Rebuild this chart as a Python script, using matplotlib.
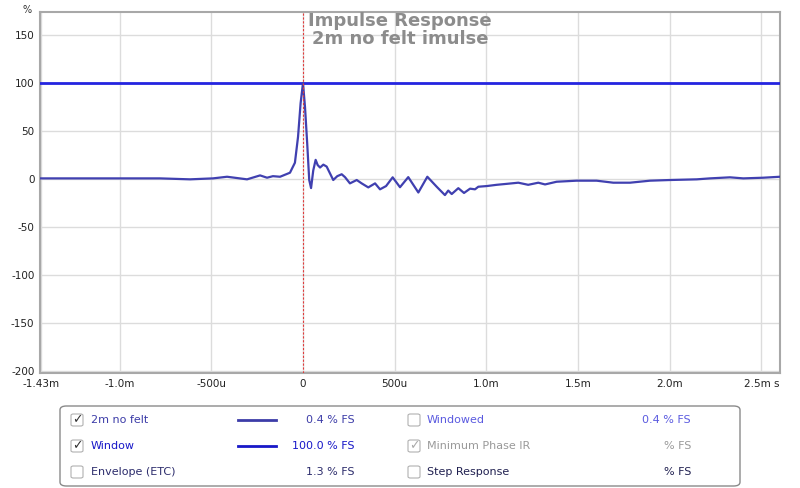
import numpy as np
import matplotlib
matplotlib.use("Agg")
import matplotlib.pyplot as plt
from matplotlib.patches import FancyBboxPatch
from matplotlib.lines import Line2D

# impulse response, time in ms, level in % FS
t_ir = [-1.434, -1.216, -0.998, -0.780, -0.616, -0.491, -0.414, -0.305, -0.234,
        -0.196, -0.164, -0.125, -0.071, -0.044, -0.027, -0.013, 0.0, 0.011, 0.023,
        0.034, 0.044, 0.056, 0.069, 0.080, 0.093, 0.111, 0.129, 0.147, 0.165,
        0.187, 0.211, 0.229, 0.256, 0.293, 0.320, 0.356, 0.393, 0.420, 0.453,
        0.489, 0.529, 0.574, 0.629, 0.678, 0.729, 0.747, 0.774, 0.792, 0.811,
        0.847, 0.878, 0.911, 0.938, 0.956, 1.002, 1.056, 1.111, 1.174, 1.228,
        1.283, 1.320, 1.383, 1.492, 1.601, 1.692, 1.783, 1.892, 2.001, 2.147,
        2.219, 2.328, 2.401, 2.510, 2.601]
v_ir = [0.7, 0.7, 0.7, 0.7, -0.3, 0.7, 2.4, -0.3, 3.8,
        1.4, 3.0, 2.4, 6.6, 17, 44, 79, 100, 75, 37,
        -1, -9.4, 9, 20, 14.6, 12, 15, 13, 6, -1,
        3, 5, 2, -4.5, -1, -4.5, -8.7, -4.5, -10.7, -7.3,
        1.8, -8.5, 2, -14, 2.4, -8, -11.5, -16.7, -12, -15.6,
        -9.5, -14.5, -10, -10.7, -8, -7.3, -6, -5, -3.8, -6,
        -3.8, -5.6, -2.8, -1.7, -1.7, -3.8, -3.8, -1.7, -1, -0.3,
        0.7, 1.8, 0.7, 1.4, 2.4]

# window
t_win = [-1.434, 2.601]
v_win = [100, 100]

xticks = [-1.43, -1.0, -0.5, 0, 0.5, 1.0, 1.5, 2.0, 2.5]
xlabels = ["-1.43m", "-1.0m", "-500u", "0", "500u", "1.0m", "1.5m", "2.0m", "2.5m s"]
yticks = [150, 100, 50, 0, -50, -100, -150, -200]

legend_rows = [
    ("2m no felt", True, "#3c3ca8", "0.4 % FS", True),
    ("Window", True, "#1818c8", "100.0 % FS", True),
    ("Envelope (ETC)", False, "#2c2c6c", "1.3 % FS", False),
]
legend_rows2 = [
    ("Windowed", False, "#5a5ae0", "0.4 % FS"),
    ("Minimum Phase IR", True, "#999999", "% FS"),
    ("Step Response", False, "#202050", "% FS"),
]

plt.rcParams['font.family'] = ['DejaVu Sans']
plt.rcParams['axes.unicode_minus'] = False

fig = plt.figure(figsize=(8, 4.88), dpi=100)
ax = fig.add_axes([0.05, 0.2357, 0.925, 0.7397])

ax.plot(t_win, v_win, color="#2424e0", linewidth=2.0, zorder=3)
ax.plot(t_ir, v_ir, color="#4040b0", linewidth=1.6, zorder=4)
ax.axvline(0, color="#e03c3c", linestyle=(0, (2, 1.5)), linewidth=0.8, zorder=5)

ax.set_xlim(-1.434, 2.601)
ax.set_ylim(-202, 174)
ax.set_xticks(xticks)
ax.set_xticklabels(xlabels)
ax.set_yticks(yticks)
ax.tick_params(length=0, labelsize=7.5, colors="#222222", pad=4)
ax.grid(True, color="#dcdcdc", linewidth=1.0, zorder=0)
for s in ax.spines.values():
    s.set_color("#a8a8a8")
    s.set_linewidth(1.5)

fig.text(0.04, 0.99, "%", fontsize=7, ha="right", va="top", color="#333333")

fig.text(400 / 800, 1 - 12 / 488, "Impulse Response\n2m no felt imulse",
         ha="center", va="top", fontsize=13, fontweight="bold", color="#8c8c8c",
         linespacing=1.0, zorder=6)

# legend box
W, H = 800.0, 488.0
box = FancyBboxPatch((60 / W, 1 - 486 / H), 680 / W, 80 / H,
                     boxstyle="round,pad=0,rounding_size=0.008",
                     transform=fig.transFigure, facecolor="white",
                     edgecolor="#8a8a8a", linewidth=1.0)
fig.patches.append(box)

row_y = [420, 446, 472]


def checkbox(x, y, checked, faded=False):
    cb = FancyBboxPatch(((x - 6) / W, 1 - (y + 6) / H), 12 / W, 12 / H,
                        boxstyle="round,pad=0,rounding_size=0.003",
                        transform=fig.transFigure, facecolor="white",
                        edgecolor="#b0b0b0", linewidth=0.8)
    fig.patches.append(cb)
    if checked:
        fig.text(x / W, 1 - y / H, "\u2713", fontsize=9, ha="center", va="center",
                 color="#aaaaaa" if faded else "#333333")


for (name, chk, col, val, line), y in zip(legend_rows, row_y):
    checkbox(77, y, chk)
    fig.text(91 / W, 1 - y / H, name, fontsize=8, color=col, va="center")
    if line:
        fig.lines.append(Line2D([238 / W, 276 / W], [1 - y / H, 1 - y / H],
                                transform=fig.transFigure, color=col, linewidth=2))
    fig.text(355 / W, 1 - y / H, val, fontsize=8, color=col, va="center", ha="right")

for (name, chk, col, val), y in zip(legend_rows2, row_y):
    checkbox(414, y, chk, faded=(name == "Minimum Phase IR"))
    fig.text(427 / W, 1 - y / H, name, fontsize=8, color=col, va="center")
    fig.text(691 / W, 1 - y / H, val, fontsize=8, color=col, va="center", ha="right")

fig.savefig("out.png", dpi=100)
